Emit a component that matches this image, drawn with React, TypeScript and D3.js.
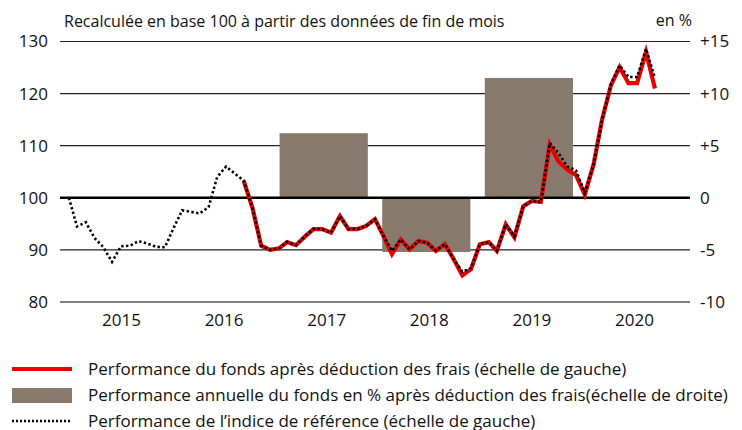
import React from "react";
import * as d3 from "d3";

const W = 742;
const H = 430;

// Month-end index: 1 = end Jan 2015 ... 68 = end Aug 2020
const benchmarkValues = [
  100, 94.5, 95.3, 92.3, 90.5, 87.7, 90.7, 90.8, 91.7, 91.2, 90.6, 90.5,
  94.3, 97.6, 97.3, 97.0, 98.2, 104.0, 106.0, 104.6, 103.3, 98.0, 90.8, 90.0,
  90.3, 91.5, 90.9, 92.6, 94.0, 94.0, 93.3, 96.5, 94.0, 94.0, 94.6, 95.9,
  92.5, 89.8, 92.0, 90.1, 91.7, 91.4, 89.9, 91.1, 88.3, 85.8, 86.5, 91.1,
  91.5, 89.8, 94.9, 92.6, 98.4, 99.4, 99.2, 110.5, 108.6, 106.0, 105.3, 101.0,
  106.5, 115.0, 121.8, 125.4, 123.2, 123.2, 128.6, 123.0,
];
const fundStartIndex = 21;
const fundValues = [
  103.3, 98.0, 90.8, 90.0, 90.3, 91.5, 90.9, 92.5, 94.0, 94.0, 93.3, 96.5,
  94.0, 94.0, 94.6, 95.9, 92.5, 89.2, 92.0, 90.1, 91.7, 91.4, 89.8, 91.1,
  88.3, 85.1, 86.3, 91.1, 91.5, 89.8, 94.9, 92.4, 98.4, 99.4, 99.2, 110.2,
  107.0, 105.4, 104.4, 100.6, 106.5, 115.0, 121.6, 125.1, 122.0, 122.0, 128.0, 121.0,
];
const years = ["2015", "2016", "2017", "2018", "2019", "2020"];
const barYears = ["2017", "2018", "2019"];
const barValues = [6.2, -5.2, 11.5];
const leftTicks = [80, 90, 100, 110, 120, 130];
const rightTicks = [-10, -5, 0, 5, 10, 15];
const rightTickLabels = ["-10", "-5", "0", "+5", "+10", "+15"];
const legendLabels = [
  "Performance du fonds après déduction des frais (échelle de gauche)",
  "Performance annuelle du fonds en % après déduction des frais(échelle de droite)",
  "Performance de l\u2019indice de référence (échelle de gauche)",
];
const titleText = "Recalculée en base 100 à partir des données de fin de mois";
const unitText = "en %";

const FONT = "'Liberation Sans Narrow', 'Open Sans', sans-serif";

export default function App() {
  const x0 = 60;
  const x1 = 690;
  const yTop = 41.5;
  const yBot = 302;

  const x = d3
    .scaleTime()
    .domain([new Date(2015, 0, 1), new Date(2021, 0, 1)])
    .range([x0, x1]);
  const yL = d3.scaleLinear().domain([80, 130]).range([yBot, yTop]);
  const yR = d3.scaleLinear().domain([-10, 15]).range([yBot, yTop]);
  const band = d3.scaleBand<string>().domain(years).range([x0, x1]).padding(0.14);

  const monthDate = (i: number) => new Date(2015, i, 1);

  const bench = benchmarkValues.map((v, k) => ({ d: monthDate(k + 1), v }));
  const fund = fundValues.map((v, k) => ({ d: monthDate(fundStartIndex + k), v }));

  const line = d3
    .line<{ d: Date; v: number }>()
    .x((p) => x(p.d))
    .y((p) => yL(p.v));

  return (
    <svg width={W} height={H} style={{ display: "block", position: "absolute", left: 0, top: 0 }}>
      <rect width={W} height={H} fill="#fff" />
      {/* gridlines */}
      {leftTicks.map((t) =>
        t === 100 || t === 80 ? null : (
          <line key={t} x1={x0} x2={x1} y1={yL(t)} y2={yL(t)} stroke="#222" strokeWidth={1.2} />
        )
      )}
      <line x1={x0} x2={x1} y1={yL(80)} y2={yL(80)} stroke="#808080" strokeWidth={2.2} />
      {/* bars */}
      {barYears.map((yr, i) => {
        const v = barValues[i];
        const y0 = yR(0);
        const yv = yR(v);
        return (
          <rect
            key={yr}
            x={band(yr)}
            width={band.bandwidth()}
            y={Math.min(y0, yv)}
            height={Math.abs(yv - y0)}
            fill="#877a6c"
          />
        );
      })}
      {/* zero line */}
      <line x1={x0} x2={x1} y1={yL(100)} y2={yL(100)} stroke="#000" strokeWidth={2.6} />
      {/* lines */}
      <path d={line(fund) || ""} fill="none" stroke="#e60000" strokeWidth={4.2} strokeLinejoin="miter" />
      <path
        d={line(bench) || ""}
        fill="none"
        stroke="#000"
        strokeWidth={2.6}
        strokeDasharray="2.4 2.4"
      />
      {/* left ticks */}
      {leftTicks.map((t) => (
        <text key={t} x={48} y={yL(t)} dy="0.35em" textAnchor="end" fontFamily={FONT} fontSize={17} fill="#111">
          {t}
        </text>
      ))}
      {rightTicks.map((t, i) => (
        <text key={t} x={700} y={yR(t)} dy="0.35em" textAnchor="start" fontFamily={FONT} fontSize={17} fill="#111">
          {rightTickLabels[i]}
        </text>
      ))}
      {/* years */}
      {years.map((yr) => (
        <text
          key={yr}
          x={(band(yr) as number) + band.bandwidth() / 2 + 3}
          y={320}
          dy="0.35em"
          textAnchor="middle"
          fontFamily={FONT}
          fontSize={17}
          fill="#111"
        >
          {yr}
        </text>
      ))}
      {/* title */}
      <text x={64} y={21} dy="0.35em" fontFamily={FONT} fontSize={16} fill="#111">
        {titleText}
      </text>
      <text x={692} y={20} dy="0.35em" textAnchor="end" fontFamily={FONT} fontSize={16} fill="#111">
        {unitText}
      </text>
      {/* legend */}
      <line x1={12} x2={72} y1={369} y2={369} stroke="#e60000" strokeWidth={4} />
      <rect x={12} y={388} width={60} height={15} fill="#877a6c" />
      <line x1={12} x2={70} y1={421} y2={421} stroke="#000" strokeWidth={2.5} strokeDasharray="2 2" />
      {legendLabels.map((l, i) => (
        <text key={i} x={88} y={369 + i * 26} dy="0.35em" fontFamily={FONT} fontSize={17} fill="#111">
          {l}
        </text>
      ))}
    </svg>
  );
}
